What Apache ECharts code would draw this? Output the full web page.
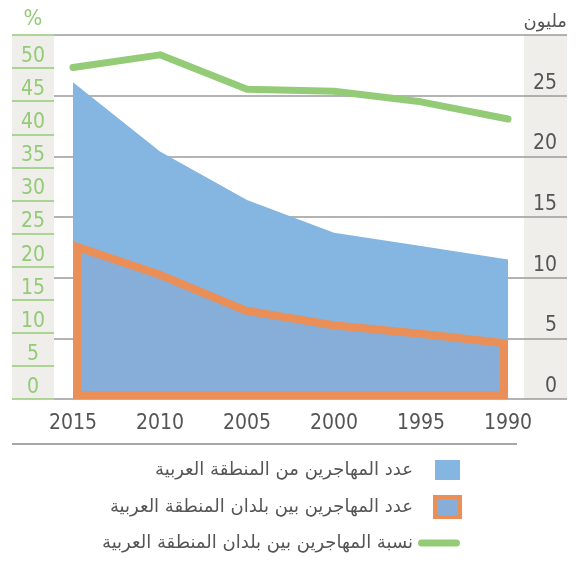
<!DOCTYPE html>
<html>
<head>
<meta charset="utf-8">
<script src="https://cdn.jsdelivr.net/npm/echarts@6/dist/echarts.min.js"></script>
<style>
  html, body { margin: 0; padding: 0; background: #fff; }
  #chart { width: 576px; height: 563px; }
</style>
</head>
<body>
<div id="chart"></div>
<script>
// 年份（从左到右倒序）
const years = ['2015', '2010', '2005', '2000', '1995', '1990']
// عدد المهاجرين من المنطقة العربية（百万）
const fromRegion = [26.1, 20.4, 16.4, 13.7, 12.6, 11.5]
// عدد المهاجرين بين بلدان المنطقة العربية（百万）
const withinRegion = [13.0, 10.6, 7.6, 6.4, 5.7, 4.9]
// نسبة المهاجرين بين بلدان المنطقة العربية（%）
const shareWithin = [50.1, 52.0, 46.8, 46.5, 44.9, 42.3]

const names = [
  'عدد المهاجرين من المنطقة العربية',
  'عدد المهاجرين بين بلدان المنطقة العربية',
  'نسبة المهاجرين بين بلدان المنطقة العربية',
]
const unitLeft = '%'
const unitRight = 'مليون'

const numFont = '"DejaVu Sans Condensed", "Liberation Sans Narrow", sans-serif'
const arFont = '"DejaVu Sans", sans-serif'
const blue = '#85b6e2'
const innerBlue = '#86aed8'
const orange = '#ea8f58'
const green = '#93cb76'
const band = '#efeeea'
const gray = '#555'

const chart = echarts.init(document.getElementById('chart'))

// 橙色边框向内绘制：外多边形填橙色，内缩多边形填蓝色
function insetPolygon(pts, w) {
  const n = pts.length
  const out = []
  for (let j = 0; j < n; j++) {
    const p = pts[(j - 1 + n) % n], v = pts[j], q = pts[(j + 1) % n]
    const d1 = norm([v[0] - p[0], v[1] - p[1]])
    const d2 = norm([q[0] - v[0], q[1] - v[1]])
    const n1 = [-d1[1], d1[0]], n2 = [-d2[1], d2[0]]
    const k = w / (1 + n1[0] * n2[0] + n1[1] * n2[1])
    out.push([v[0] + (n1[0] + n2[0]) * k, v[1] + (n1[1] + n2[1]) * k])
  }
  return out
}
function norm(v) {
  const l = Math.hypot(v[0], v[1]) || 1
  return [v[0] / l, v[1] / l]
}

// 图例方块：左侧留空点，让方块靠右对齐
const squareIcon = 'path://M-17,10L-17,10M0,0H25V20H0Z'
const lineIcon = 'path://M3.5,0H38.5A3.5,3.5,0,0,1,38.5,7H3.5A3.5,3.5,0,0,1,3.5,0Z'

const option = {
  animation: false,
  graphic: {
    elements: [
      { type: 'rect', z: -5, shape: { x: 12, y: 35, width: 42, height: 364 }, style: { fill: band } },
      { type: 'rect', z: -5, shape: { x: 524, y: 35, width: 43, height: 364 }, style: { fill: band } },
      { type: 'line', z: -5, shape: { x1: 12, y1: 444, x2: 517, y2: 444 }, style: { stroke: '#8a8a8a', lineWidth: 1.5 } },
      {
        type: 'text',
        x: 33,
        y: 30,
        style: { text: unitLeft, fill: green, font: '22px ' + numFont, align: 'center', verticalAlign: 'bottom' },
      },
      {
        type: 'text',
        x: 567,
        y: 31,
        style: { text: unitRight, fill: gray, font: '18px ' + arFont, align: 'right', verticalAlign: 'bottom' },
      },
    ],
  },
  grid: [
    { left: 54, right: 9, top: 35, bottom: 164 },
    { left: 73, right: 68, top: 35, bottom: 164 },
  ],
  xAxis: [
    { gridIndex: 0, type: 'value', show: false, min: 0, max: 1 },
    {
      gridIndex: 1,
      type: 'category',
      data: years,
      boundaryGap: false,
      axisLine: { show: false },
      axisTick: { show: false },
      axisLabel: { color: gray, fontSize: 21, fontFamily: numFont, margin: 14 },
    },
  ],
  yAxis: [
    {
      // 右轴：百万
      gridIndex: 0,
      type: 'value',
      position: 'right',
      min: 0,
      max: 30,
      interval: 5,
      axisLine: { show: false },
      axisTick: { show: false },
      splitLine: { lineStyle: { color: '#9a9a9a', width: 1.5 } },
      axisLabel: {
        inside: true,
        margin: 10,
        color: gray,
        fontSize: 21,
        fontFamily: numFont,
        verticalAlign: 'bottom',
        padding: [0, 0, 2, 0],
        formatter: (v) => (v >= 30 ? '' : v),
      },
    },
    {
      // 左轴：百分比
      gridIndex: 0,
      type: 'value',
      position: 'left',
      min: 0,
      max: 55,
      interval: 5,
      axisLine: { show: false },
      axisTick: { show: true, length: 42, lineStyle: { color: green, width: 1.5 } },
      splitLine: { show: false },
      axisLabel: {
        margin: 21,
        align: 'center',
        color: green,
        fontSize: 21,
        fontFamily: numFont,
        verticalAlign: 'bottom',
        padding: [0, 0, 1, 0],
        formatter: (v) => (v >= 55 ? '' : v),
      },
    },
    { gridIndex: 1, type: 'value', position: 'right', min: 0, max: 30, show: false },
    { gridIndex: 1, type: 'value', position: 'left', min: 0, max: 55, show: false },
  ],
  legend: {
    orient: 'vertical',
    align: 'right',
    right: 114,
    top: 460,
    padding: 0,
    itemWidth: 42,
    itemHeight: 20,
    itemGap: 15,
    textStyle: { color: gray, fontSize: 18, fontFamily: arFont },
    data: [
      { name: names[0], icon: squareIcon, itemStyle: { color: blue, borderWidth: 0 } },
      { name: names[1], icon: squareIcon, itemStyle: { color: innerBlue, borderColor: orange, borderWidth: 4 } },
      { name: names[2], icon: lineIcon, itemStyle: { color: green, borderWidth: 0 } },
    ],
  },
  series: [
    {
      name: names[0],
      type: 'line',
      xAxisIndex: 1,
      yAxisIndex: 2,
      data: fromRegion,
      showSymbol: false,
      lineStyle: { width: 0 },
      itemStyle: { color: blue },
      areaStyle: { color: blue, opacity: 1 },
      z: 2,
    },
    {
      name: names[1],
      type: 'custom',
      xAxisIndex: 1,
      yAxisIndex: 2,
      data: withinRegion.map((v, i) => [i, v]),
      itemStyle: { color: innerBlue },
      z: 3,
      renderItem: (params, api) => {
        if (params.dataIndex !== 0) return null
        const last = withinRegion.length - 1
        const pts = [api.coord([0, 0])]
        withinRegion.forEach((v, i) => pts.push(api.coord([i, v])))
        pts.push(api.coord([last, 0]))
        const inner = insetPolygon(pts, 8)
        return {
          type: 'group',
          children: [
            { type: 'polygon', shape: { points: pts }, style: { fill: orange } },
            { type: 'polygon', shape: { points: inner }, style: { fill: innerBlue } },
          ],
        }
      },
    },
    {
      name: names[2],
      type: 'line',
      xAxisIndex: 1,
      yAxisIndex: 3,
      data: shareWithin,
      showSymbol: false,
      itemStyle: { color: green },
      lineStyle: { color: green, width: 7, cap: 'round', join: 'round' },
      z: 4,
    },
  ],
}

chart.setOption(option)
</script>
</body>
</html>
